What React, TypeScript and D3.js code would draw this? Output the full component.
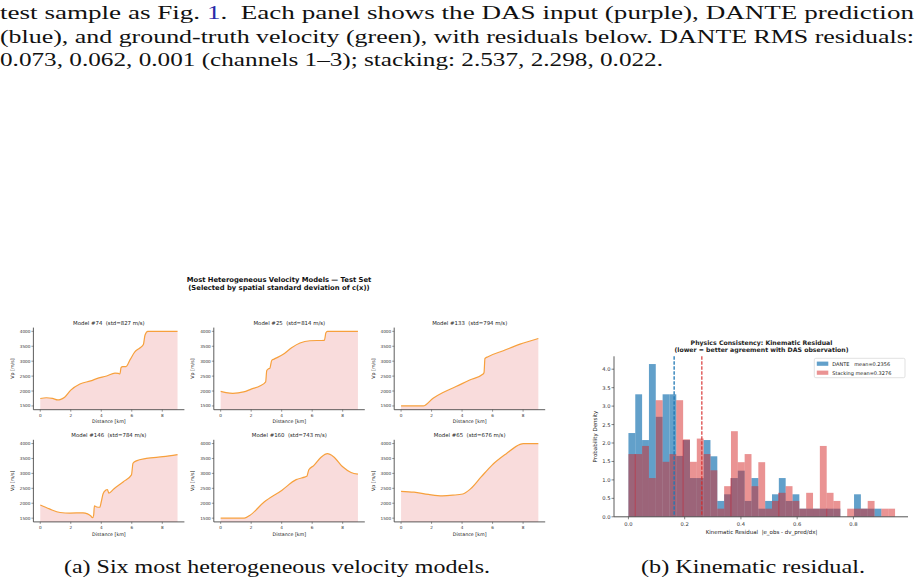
import React from "react";
import * as d3 from "d3";

const WIDTH = 919;
const HEIGHT = 584;

// ---------- running text above the figure ----------
const bodyLine1Start = "test sample as Fig. ";
const bodyLine1Ref = "1";
const bodyLine1End = ".  Each panel shows the DAS input (purple), DANTE prediction";
const bodyLine2 = "(blue), and ground-truth velocity (green), with residuals below. DANTE RMS residuals:";
const bodyLine3 = "0.073, 0.062, 0.001 (channels 1\u20133); stacking: 2.537, 2.298, 0.022.";
const captionA = "(a) Six most heterogeneous velocity models.";
const captionB = "(b) Kinematic residual.";

// ---------- velocity models: [distance km, Vp m/s] ----------
type Pt = [number, number];
const model74: Pt[] = [
  [0, 1750], [0.4, 1775], [0.8, 1752], [1.15, 1702], [1.3, 1712], [1.6, 1790], [2.0, 2030],
  [2.6, 2235], [3.3, 2340], [3.7, 2415], [4.35, 2505], [4.9, 2600], [5.12, 2592], [5.22, 2570],
  [5.3, 2790], [5.4, 2815], [5.62, 2820], [5.9, 3060], [6.2, 3310], [6.55, 3450], [6.76, 3560],
  [6.87, 3880], [7.05, 4000], [9, 4000],
];
const model25: Pt[] = [
  [0, 1990], [0.35, 1950], [0.8, 1925], [1.5, 1970], [2.0, 2065], [2.6, 2180], [2.95, 2310],
  [3.02, 2680], [3.12, 2740], [3.22, 2760], [3.35, 3030], [3.5, 3070], [4.1, 3230], [4.65, 3450],
  [5.2, 3610], [5.85, 3685], [6.8, 3700], [6.9, 3950], [7.0, 4000], [9, 4000],
];
const model133: Pt[] = [
  [0, 1500], [1.45, 1500], [2.1, 1760], [2.75, 1950], [3.6, 2150], [4.5, 2370], [5.38, 2570],
  [5.44, 2620], [5.5, 3090], [5.7, 3150], [6.7, 3350], [7.8, 3570], [9, 3760],
];
const model146: Pt[] = [
  [0, 1940], [0.6, 1810], [1.3, 1690], [1.95, 1670], [2.8, 1680], [3.1, 1645], [3.3, 1580],
  [3.43, 1515], [3.5, 1600], [3.55, 1915], [3.7, 1875], [3.9, 1865], [4.0, 2050], [4.12, 2320],
  [4.3, 2440], [4.4, 2460], [4.5, 2340], [4.8, 2470], [5.45, 2720], [5.98, 2950], [6.08, 3340],
  [6.3, 3420], [6.95, 3500], [8.05, 3560], [9, 3630],
];
const model160: Pt[] = [
  [0, 1500], [1.55, 1500], [1.9, 1590], [2.85, 2040], [4.0, 2430], [4.95, 2790], [5.5, 2875],
  [5.65, 2900], [5.78, 3120], [6.1, 3260], [6.6, 3550], [7.0, 3660], [7.4, 3560], [8.0, 3220],
  [8.55, 3030], [9, 2975],
];
const model65: Pt[] = [
  [0, 2400], [0.85, 2370], [1.8, 2295], [2.7, 2250], [3.4, 2270], [4.05, 2310], [4.55, 2480],
  [5.25, 2880], [5.95, 3270], [6.9, 3660], [7.8, 3970], [8.0, 4000], [9, 4000],
];
const modelIds = [74, 25, 133, 146, 160, 65];
const modelStd = [827, 814, 794, 784, 743, 676];
const modelProfiles = [model74, model25, model133, model146, model160, model65];
const distanceTicks = [0, 2, 4, 6, 8];
const vpTicks = [1500, 2000, 2500, 3000, 3500, 4000];

// ---------- kinematic residual histogram (density per bin) ----------
const residualMax = 0.948;
const danteDensity = [
  2.27, 3.32, 2.08, 4.14, 2.71, 3.32, 3.32, 1.65, 2.08, 1.05, 1.05, 2.08, 1.64, 0.43, 0.61, 1.05,
  1.25, 0.43, 1.05, 0.22, 0.43, 0.61, 1.05, 0.43, 0.61, 0.22, 0.22, 0.22, 0.22, 0.22, 0.22, 0,
  0, 0.61, 0.22, 0.22, 0.22, 0, 0,
];
const stackingDensity = [
  1.7, 1.7, 1.92, 1.05, 3.16, 1.49, 1.7, 3.16, 2.1, 1.49, 2.12, 1.7, 1.26, 0.22, 0.83, 2.32,
  1.48, 1.7, 0.83, 1.48, 0.22, 0.43, 0.65, 0.83, 0.43, 0.22, 0.65, 0.22, 1.92, 0.65, 0.43, 0,
  0.22, 0.22, 0.22, 0.43, 0, 0.22, 0.22,
];
const danteMarker = 0.1625;
const stackingMarker = 0.261;
const seamEdgeBins = [1, 8, 15, 22, 29];
const residualTicks = [0, 0.2, 0.4, 0.6, 0.8];
const densityTicks = [0, 0.5, 1, 1.5, 2, 2.5, 3, 3.5, 4];
const legendLabels = ["DANTE   mean=0.2356", "Stacking mean=0.3276"];

const SANS = "'DejaVu Sans', Verdana, sans-serif";
const SERIF = "'Liberation Serif', 'Times New Roman', serif";
const BLUE = "#1f77b4";
const RED = "#d62728";

function VelocityPanel({ data, title, left, top }: { data: Pt[]; title: string; left: number; top: number }) {
  const w = 151;
  const h = 82.1;
  const x = d3.scaleLinear().domain([-0.45, 9.45]).range([left, left + w]);
  const y = d3.scaleLinear().domain([1375, 4125]).range([top + h, top]);
  const area = d3
    .area<Pt>()
    .x((d) => x(d[0]))
    .y0(y(1375))
    .y1((d) => y(d[1]))
    .curve(d3.curveMonotoneX);
  const line = d3
    .line<Pt>()
    .x((d) => x(d[0]))
    .y((d) => y(d[1]))
    .curve(d3.curveMonotoneX);
  const bottom = top + h;
  return (
    <g fontFamily={SANS}>
      <path d={area(data) || ""} fill="#f9dcdc" />
      <path d={line(data) || ""} fill="none" stroke="#f7a03c" strokeWidth={1.2} />
      <line x1={left} x2={left} y1={top} y2={bottom} stroke="#333" strokeWidth={0.8} />
      <line x1={left} x2={left + w} y1={bottom} y2={bottom} stroke="#333" strokeWidth={0.8} />
      {vpTicks.map((t) => (
        <g key={t}>
          <line x1={left - 2} x2={left} y1={y(t)} y2={y(t)} stroke="#333" strokeWidth={0.5} />
          <text x={left - 3} y={y(t)} fontSize={4.2} textAnchor="end" dominantBaseline="central" fill="#333">
            {t}
          </text>
        </g>
      ))}
      {distanceTicks.map((t) => (
        <g key={t}>
          <line x1={x(t)} x2={x(t)} y1={bottom} y2={bottom + 2} stroke="#333" strokeWidth={0.5} />
          <text x={x(t)} y={bottom + 5.5} fontSize={4.2} textAnchor="middle" dominantBaseline="central" fill="#333">
            {t}
          </text>
        </g>
      ))}
      <text x={left + w / 2} y={top - 2.8} fontSize={5.4} textAnchor="middle" fill="#222" style={{ whiteSpace: "pre" }}>
        {title}
      </text>
      <text x={left + w / 2} y={bottom + 13.6} fontSize={4.8} textAnchor="middle" fill="#222">
        Distance [km]
      </text>
      <text
        transform={`translate(${left - 21}, ${top + h / 2}) rotate(-90)`}
        fontSize={4.8}
        textAnchor="middle"
        dominantBaseline="central"
        fill="#222"
      >
        Vp [m/s]
      </text>
    </g>
  );
}

function ResidualHistogram() {
  const left = 614;
  const right = 908;
  const top = 356.3;
  const bottom = 516.8;
  const x = d3.scaleLinear().domain([-0.0513, 0.994]).range([left, right]);
  const y = d3.scaleLinear().domain([0, 4.35]).range([bottom, top]);
  const nb = danteDensity.length;
  const bw = residualMax / nb;
  const bars = (vals: number[], color: string, op: number) =>
    vals.map((v, i) =>
      v > 0 ? (
        <rect
          key={i}
          x={x(i * bw)}
          width={x((i + 1) * bw) - x(i * bw)}
          y={y(v)}
          height={y(0) - y(v)}
          fill={color}
          fillOpacity={op}
        />
      ) : null
    );
  const cx = 761.5;
  return (
    <g fontFamily={SANS}>
      {bars(danteDensity, BLUE, 0.7)}
      {bars(stackingDensity, RED, 0.5)}
      {seamEdgeBins.map((k) => (
        <line
          key={k}
          x1={x(k * bw)}
          x2={x(k * bw)}
          y1={y(0)}
          y2={y(Math.min(danteDensity[k], stackingDensity[k]))}
          stroke="#c0283a"
          strokeWidth={0.8}
          strokeOpacity={0.8}
        />
      ))}
      <line x1={x(danteMarker)} x2={x(danteMarker)} y1={top} y2={bottom} stroke={BLUE} strokeWidth={1.3} strokeDasharray="3.5,1.5" />
      <line x1={x(stackingMarker)} x2={x(stackingMarker)} y1={top} y2={bottom} stroke={RED} strokeWidth={1.3} strokeDasharray="3.5,1.5" strokeOpacity={0.85} />
      <line x1={left} x2={left} y1={top} y2={bottom} stroke="#333" strokeWidth={0.8} />
      <line x1={left} x2={right} y1={bottom} y2={bottom} stroke="#555" strokeWidth={1} />
      {densityTicks.map((t) => (
        <g key={t}>
          <line x1={left - 2.5} x2={left} y1={y(t)} y2={y(t)} stroke="#333" strokeWidth={0.6} />
          <text x={left - 3.5} y={y(t)} fontSize={5.2} textAnchor="end" dominantBaseline="central" fill="#333">
            {t.toFixed(1)}
          </text>
        </g>
      ))}
      {residualTicks.map((t) => (
        <g key={t}>
          <line x1={x(t)} x2={x(t)} y1={bottom} y2={bottom + 2.5} stroke="#333" strokeWidth={0.6} />
          <text x={x(t)} y={bottom + 7.2} fontSize={5.2} textAnchor="middle" dominantBaseline="central" fill="#333">
            {t.toFixed(1)}
          </text>
        </g>
      ))}
      <text x={cx} y={344.6} fontSize={6.2} fontWeight="bold" textAnchor="middle" fill="#222">
        Physics Consistency: Kinematic Residual
      </text>
      <text x={cx} y={351.6} fontSize={6.2} fontWeight="bold" textAnchor="middle" fill="#222">
        (lower = better agreement with DAS observation)
      </text>
      <text x={cx} y={534.2} fontSize={5.5} textAnchor="middle" fill="#222" style={{ whiteSpace: "pre" }}>
        {"Kinematic Residual  |e_obs - dv_pred/dx|"}
      </text>
      <text
        transform={`translate(594.5, ${(top + bottom) / 2}) rotate(-90)`}
        fontSize={5.5}
        textAnchor="middle"
        dominantBaseline="central"
        fill="#222"
      >
        Probability Density
      </text>
      <g>
        <rect x={814.3} y={358.3} width={90.7} height={19.4} rx={1.5} fill="#fff" fillOpacity={0.8} stroke="#ccc" strokeWidth={0.6} />
        {legendLabels.map((lab, i) => (
          <g key={lab}>
            <rect
              x={816.8}
              y={361.6 + i * 9}
              width={11.5}
              height={4.2}
              fill={i === 0 ? BLUE : RED}
              fillOpacity={i === 0 ? 0.7 : 0.5}
            />
            <text x={832.3} y={363.7 + i * 9} fontSize={5} dominantBaseline="central" fill="#222" style={{ whiteSpace: "pre" }}>
              {lab}
            </text>
          </g>
        ))}
      </g>
    </g>
  );
}

export default function App() {
  const colLeft = [33.4, 213.8, 394.2];
  const rowTop = [327.6, 439.8];
  return (
    <svg
      width={WIDTH}
      height={HEIGHT}
      viewBox={`0 0 ${WIDTH} ${HEIGHT}`}
      style={{ position: "absolute", left: 0, top: 0, background: "#fff" }}
    >
      <rect width={WIDTH} height={HEIGHT} fill="#fff" />
      <g fontFamily={SERIF} fontSize={19.5} fill="#111">
        <text x={0} y={19} textLength={914} lengthAdjust="spacingAndGlyphs" style={{ whiteSpace: "pre" }}>
          {bodyLine1Start}
          <tspan fill="#2a2aa8">{bodyLine1Ref}</tspan>
          {bodyLine1End}
        </text>
        <text x={0} y={43} textLength={914} lengthAdjust="spacingAndGlyphs">
          {bodyLine2}
        </text>
        <text x={0} y={66} textLength={663} lengthAdjust="spacingAndGlyphs">
          {bodyLine3}
        </text>
        <text x={64} y={573} textLength={426} lengthAdjust="spacingAndGlyphs">
          {captionA}
        </text>
        <text x={641} y={573} textLength={224} lengthAdjust="spacingAndGlyphs">
          {captionB}
        </text>
      </g>
      <g fontFamily={SANS} fontWeight="bold" fontSize={6.8} fill="#111" textAnchor="middle">
        <text x={279} y={281.6}>Most Heterogeneous Velocity Models — Test Set</text>
        <text x={279} y={290}>(Selected by spatial standard deviation of c(x))</text>
      </g>
      {modelProfiles.map((data, i) => (
        <VelocityPanel
          key={modelIds[i]}
          data={data}
          title={`Model #${modelIds[i]}  (std=${modelStd[i]} m/s)`}
          left={colLeft[i % 3]}
          top={rowTop[Math.floor(i / 3)]}
        />
      ))}
      <ResidualHistogram />
    </svg>
  );
}
